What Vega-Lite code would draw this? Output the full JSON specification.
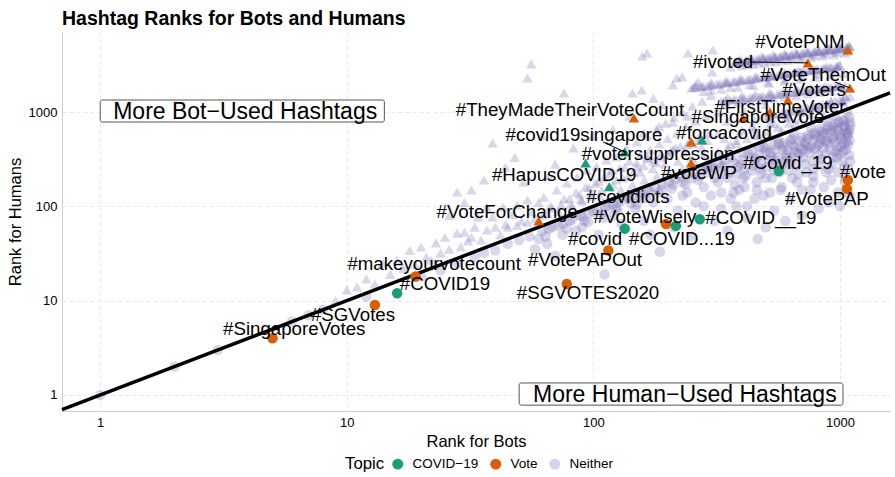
{
"$schema":"https://vega.github.io/schema/vega-lite/v6.json",
"width":828,"height":379,
"autosize":{"type":"none"},
"padding":{"left":62,"top":32,"right":5,"bottom":66},
"background":"white",
"title":{"text":"Hashtag Ranks for Bots and Humans","anchor":"start","frame":"group","font":"Liberation Sans","fontSize":19.5,"fontWeight":"bold","color":"black","baseline":"alphabetic","offset":10,"dy":22},
"config":{"view":{"stroke":null},"font":"Liberation Sans",
"axis":{"labelFont":"Liberation Sans","titleFont":"Liberation Sans","labelColor":"black","titleColor":"black","labelFontSize":13,"titleFontSize":16.5,"titleFontWeight":"normal","ticks":false,"domainColor":"#cfcfcf","domainWidth":1,"gridColor":"#e8e8e8","gridDash":[4,3],"gridWidth":1,"labelPadding":5}},
"datasets":{
"bg":[
{"b":9,"h":10},{"b":10,"h":13},{"b":11,"h":14},{"b":12,"h":17},{"b":13,"h":15},{"b":14,"h":25},{"b":15,"h":19},{"b":16,"h":27},{"b":17,"h":22},{"b":18,"h":34},{"b":19,"h":24},{"b":20,"h":37},{"b":21,"h":29},{"b":22,"h":27},{"b":23,"h":41},{"b":24,"h":32},{"b":25,"h":47},{"b":26,"h":35},{"b":28,"h":52},{"b":29,"h":37},{"b":30,"h":53},
{"b":31,"h":43},{"b":32,"h":47},{"b":33,"h":60},{"b":34,"h":77},{"b":35,"h":44},{"b":37,"h":56},{"b":37,"h":98},{"b":39,"h":77},{"b":40,"h":60},{"b":42,"h":50},{"b":43,"h":98},{"b":44,"h":64},{"b":45,"h":60},{"b":47,"h":82},{"b":49,"h":63},{"b":49,"h":103},{"b":51,"h":70},{"b":54,"h":68},{"b":54,"h":117},{"b":56,"h":88},{"b":58,"h":74},{"b":60,"h":110},{"b":63,"h":125},{"b":65,"h":84},{"b":68,"h":95},{"b":71,"h":149},{"b":74,"h":104},{"b":78,"h":177},{"b":80,"h":121},{"b":82,"h":98},{"b":86,"h":204},{"b":88,"h":133},{"b":90,"h":113},{"b":94,"h":242},{"b":96,"h":158},{"b":98,"h":128},
{"b":28,"h":142},{"b":32,"h":149},{"b":36,"h":190},{"b":30,"h":110},{"b":26,"h":80},{"b":39,"h":470},{"b":44,"h":260},{"b":48,"h":330},{"b":54,"h":2300},{"b":56,"h":3230},{"b":76,"h":1590},{"b":83,"h":415},{"b":62,"h":560},{"b":70,"h":280},{"b":52,"h":180},{"b":66,"h":210},{"b":100,"h":560},
{"b":103,"h":262},{"b":105,"h":185},{"b":108,"h":148},{"b":113,"h":310},{"b":116,"h":220},{"b":120,"h":170},{"b":124,"h":333},{"b":128,"h":255},{"b":132,"h":200},{"b":136,"h":410},{"b":140,"h":300},{"b":145,"h":230},{"b":150,"h":480},{"b":155,"h":350},{"b":160,"h":270},{"b":165,"h":560},{"b":170,"h":400},{"b":175,"h":300},{"b":180,"h":650},{"b":185,"h":460},{"b":190,"h":330},{"b":196,"h":760},{"b":200,"h":520},{"b":206,"h":380},{"b":212,"h":880},{"b":218,"h":600},{"b":225,"h":430},{"b":230,"h":1000},{"b":238,"h":700},{"b":245,"h":480},{"b":252,"h":1150},{"b":260,"h":800},{"b":268,"h":540},{"b":276,"h":1300},{"b":285,"h":900},{"b":294,"h":600},{"b":300,"h":1500},{"b":144,"h":1590},{"b":158,"h":3920},{"b":165,"h":4225},{"b":242,"h":4225},{"b":157,"h":1710},{"b":218,"h":2290},{"b":266,"h":2080},{"b":303,"h":2650},{"b":210,"h":1940},{"b":229,"h":2360},{"b":305,"h":4540},{"b":190,"h":1200},{"b":140,"h":900},{"b":120,"h":650},{"b":175,"h":1400},
{"b":150,"h":260},{"b":165,"h":330},{"b":180,"h":290},{"b":200,"h":350},{"b":215,"h":420},{"b":235,"h":380},{"b":255,"h":460},{"b":275,"h":420},{"b":290,"h":500},{"b":160,"h":600},{"b":185,"h":700},{"b":210,"h":780},{"b":240,"h":900},
{"b":62,"h":80},{"b":67,"h":100},{"b":72,"h":88},{"b":76,"h":120},{"b":81,"h":105},{"b":85,"h":140},{"b":89,"h":118},{"b":93,"h":160},{"b":97,"h":140},{"b":102,"h":175},{"b":106,"h":130},{"b":110,"h":200},{"b":115,"h":160},{"b":119,"h":240},{"b":124,"h":190},{"b":129,"h":150},{"b":134,"h":260},{"b":139,"h":210},{"b":144,"h":170},{"b":150,"h":290},{"b":155,"h":230},{"b":161,"h":190},{"b":167,"h":320},{"b":174,"h":250},{"b":181,"h":210},{"b":188,"h":360},{"b":195,"h":280},{"b":202,"h":230},{"b":210,"h":400},{"b":220,"h":300},{"b":230,"h":250},{"b":240,"h":450},{"b":250,"h":330},{"b":260,"h":280},{"b":270,"h":500},{"b":280,"h":360},{"b":290,"h":310},
{"b":380,"h":3400},{"b":400,"h":3460},{"b":420,"h":3520},{"b":445,"h":3590},{"b":470,"h":3660},{"b":495,"h":3720},{"b":520,"h":3790},{"b":550,"h":3860},{"b":580,"h":3930},{"b":610,"h":4000},{"b":640,"h":4070},{"b":675,"h":4140},{"b":710,"h":4220},{"b":750,"h":4300},{"b":790,"h":4380},{"b":830,"h":4450},{"b":875,"h":4530},{"b":920,"h":4610},{"b":970,"h":4700},{"b":1020,"h":4780},{"b":1070,"h":4860},{"b":1100,"h":4910},
{"b":372,"h":3380},{"b":395,"h":3440},{"b":415,"h":3500},{"b":438,"h":3570},{"b":462,"h":3640},{"b":488,"h":3700},{"b":512,"h":3770},{"b":545,"h":3850},{"b":572,"h":3910},{"b":602,"h":3980},{"b":632,"h":4050},{"b":668,"h":4120},{"b":702,"h":4200},{"b":742,"h":4280},{"b":782,"h":4360},{"b":822,"h":4430},{"b":865,"h":4510},{"b":910,"h":4590},{"b":960,"h":4680},{"b":1010,"h":4760},{"b":1060,"h":4840},
{"b":420,"h":3200},{"b":470,"h":3330},{"b":520,"h":3450},{"b":580,"h":3570},{"b":640,"h":3700},{"b":710,"h":3830},{"b":790,"h":3980},{"b":875,"h":4120},{"b":970,"h":4270},{"b":1070,"h":4420},
{"b":390,"h":3650},{"b":432,"h":3760},{"b":482,"h":3900},{"b":535,"h":4030},{"b":595,"h":4170},{"b":660,"h":4310},{"b":730,"h":4460},{"b":810,"h":4620},{"b":900,"h":4790},{"b":995,"h":4960},{"b":1085,"h":5100},
{"b":360,"h":3000},{"b":400,"h":3100},{"b":445,"h":3200},{"b":495,"h":3300},{"b":550,"h":3420},{"b":615,"h":3540},{"b":685,"h":3660},{"b":765,"h":3790},{"b":850,"h":3920},{"b":945,"h":4060},{"b":1050,"h":4200},
{"b":410,"h":3400},{"b":457,"h":3520},{"b":507,"h":3640},{"b":565,"h":3770},{"b":625,"h":3880},{"b":692,"h":4020},{"b":770,"h":4160},{"b":852,"h":4290},{"b":945,"h":4430},{"b":1045,"h":4580},
{"b":385,"h":3420},{"b":435,"h":3560},{"b":485,"h":3690},{"b":540,"h":3830},{"b":600,"h":3960},{"b":665,"h":4100},{"b":735,"h":4250},{"b":815,"h":4400},{"b":900,"h":4560},{"b":995,"h":4730},{"b":1090,"h":4890},
{"b":250,"h":1800},{"b":270,"h":1855},{"b":290,"h":1905},{"b":315,"h":1970},{"b":340,"h":2030},{"b":365,"h":2090},{"b":390,"h":2140},{"b":420,"h":2200},{"b":450,"h":2260},{"b":485,"h":2330},{"b":520,"h":2390},{"b":560,"h":2460},{"b":600,"h":2530},{"b":645,"h":2600},{"b":690,"h":2670},{"b":740,"h":2740},{"b":790,"h":2800},{"b":845,"h":2880},{"b":900,"h":2950},{"b":960,"h":3020},{"b":1000,"h":3100},
{"b":255,"h":1815},{"b":275,"h":1870},{"b":297,"h":1920},{"b":322,"h":1985},{"b":347,"h":2045},{"b":372,"h":2100},{"b":398,"h":2155},{"b":428,"h":2215},{"b":458,"h":2280},{"b":493,"h":2345},{"b":530,"h":2410},{"b":570,"h":2480},{"b":612,"h":2550},{"b":656,"h":2620},{"b":702,"h":2690},{"b":752,"h":2755},{"b":803,"h":2820},{"b":858,"h":2900},{"b":915,"h":2970},{"b":970,"h":3040},
{"b":260,"h":1830},{"b":280,"h":1880},{"b":303,"h":1940},{"b":328,"h":2000},{"b":352,"h":2060},{"b":378,"h":2115},{"b":405,"h":2170},{"b":435,"h":2230},{"b":467,"h":2295},{"b":502,"h":2360},{"b":540,"h":2425},{"b":580,"h":2495},{"b":622,"h":2565},{"b":667,"h":2635},{"b":715,"h":2705},{"b":765,"h":2770},{"b":817,"h":2840},{"b":872,"h":2915},{"b":930,"h":2985},{"b":980,"h":3060},
{"b":300,"h":1700},{"b":360,"h":1820},{"b":430,"h":1950},{"b":510,"h":2080},{"b":600,"h":2220},{"b":700,"h":2360},{"b":820,"h":2510},{"b":950,"h":2660},
{"b":260,"h":1950},{"b":300,"h":2050},{"b":345,"h":2150},{"b":395,"h":2260},{"b":455,"h":2380},{"b":520,"h":2500},{"b":595,"h":2620},{"b":680,"h":2750},{"b":775,"h":2880},{"b":880,"h":3020},{"b":990,"h":3160},
{"b":280,"h":1650},{"b":330,"h":1740},{"b":385,"h":1830},{"b":445,"h":1920},{"b":515,"h":2020},{"b":595,"h":2120},{"b":690,"h":2230},{"b":795,"h":2340},{"b":915,"h":2460},{"b":1040,"h":2580},
{"b":330,"h":1300},{"b":360,"h":1340},{"b":395,"h":1380},{"b":430,"h":1420},{"b":470,"h":1460},{"b":510,"h":1500},{"b":555,"h":1540},{"b":600,"h":1580},{"b":650,"h":1620},{"b":705,"h":1670},{"b":760,"h":1710},{"b":820,"h":1750},{"b":885,"h":1800},{"b":950,"h":1850},{"b":1050,"h":1900},
{"b":338,"h":1310},{"b":370,"h":1350},{"b":403,"h":1390},{"b":440,"h":1430},{"b":480,"h":1470},{"b":520,"h":1510},{"b":566,"h":1550},{"b":612,"h":1590},{"b":664,"h":1635},{"b":718,"h":1680},{"b":775,"h":1720},{"b":836,"h":1765},{"b":900,"h":1810},{"b":975,"h":1860},
{"b":345,"h":1320},{"b":378,"h":1360},{"b":412,"h":1400},{"b":450,"h":1440},{"b":490,"h":1480},{"b":532,"h":1520},{"b":578,"h":1560},{"b":625,"h":1600},{"b":678,"h":1645},{"b":732,"h":1690},{"b":790,"h":1730},{"b":852,"h":1775},{"b":918,"h":1825},{"b":1000,"h":1875},
{"b":345,"h":1200},{"b":385,"h":1240},{"b":430,"h":1290},{"b":480,"h":1340},{"b":535,"h":1390},{"b":595,"h":1440},{"b":665,"h":1490},{"b":740,"h":1550},{"b":825,"h":1610},{"b":920,"h":1670},{"b":1020,"h":1730},{"b":1090,"h":1780},
{"b":350,"h":1420},{"b":400,"h":1480},{"b":455,"h":1540},{"b":520,"h":1600},{"b":590,"h":1670},{"b":670,"h":1740},{"b":760,"h":1810},{"b":865,"h":1880},{"b":985,"h":1960},
{"b":500,"h":900},{"b":540,"h":940},{"b":585,"h":980},{"b":630,"h":1020},{"b":680,"h":1070},{"b":735,"h":1120},{"b":790,"h":1170},{"b":850,"h":1220},{"b":920,"h":1280},{"b":990,"h":1340},{"b":1060,"h":1400},{"b":1100,"h":1450},
{"b":520,"h":920},{"b":562,"h":960},{"b":607,"h":1000},{"b":655,"h":1045},{"b":707,"h":1095},{"b":762,"h":1145},{"b":820,"h":1195},{"b":885,"h":1250},{"b":955,"h":1310},{"b":1025,"h":1370},
{"b":450,"h":820},{"b":520,"h":880},{"b":600,"h":950},{"b":690,"h":1030},{"b":790,"h":1110},{"b":900,"h":1200},{"b":1020,"h":1300},
{"b":320,"h":380},{"b":350,"h":420},{"b":380,"h":460},{"b":420,"h":520},{"b":460,"h":570},{"b":510,"h":620},{"b":560,"h":690},{"b":620,"h":760},{"b":690,"h":840},{"b":760,"h":930},{"b":840,"h":1030},{"b":930,"h":1140},{"b":1030,"h":1260},{"b":340,"h":520},{"b":390,"h":590},{"b":450,"h":660},{"b":520,"h":760},{"b":600,"h":870},{"b":690,"h":1000},{"b":800,"h":1140},{"b":920,"h":1310},{"b":1050,"h":1480},
{"b":320,"h":600},{"b":350,"h":800},{"b":380,"h":500},{"b":410,"h":1000},{"b":440,"h":700},{"b":470,"h":560},{"b":500,"h":1200},{"b":540,"h":750},{"b":580,"h":640},{"b":620,"h":900},{"b":660,"h":760},{"b":700,"h":1000},{"b":320,"h":1000},{"b":360,"h":450},{"b":400,"h":640},
{"b":1,"h":1},{"b":2,"h":2},{"b":3,"h":3},{"b":6,"h":6},{"b":7,"h":7},{"b":8,"h":8},{"b":12,"h":11},{"b":20,"h":18},{"b":24,"h":21},{"b":28,"h":25},{"b":33,"h":29},{"b":36,"h":32},{"b":40,"h":34},{"b":45,"h":40},{"b":50,"h":44},{"b":55,"h":48},{"b":60,"h":45},{"b":66,"h":58},{"b":70,"h":30},{"b":72,"h":62},{"b":80,"h":70},{"b":85,"h":55},{"b":90,"h":78},{"b":95,"h":68},{"b":100,"h":88},{"b":105,"h":50},{"b":111,"h":19},{"b":115,"h":100},{"b":120,"h":80},{"b":126,"h":110},{"b":130,"h":65},{"b":140,"h":120},{"b":148,"h":95},{"b":155,"h":130},{"b":160,"h":70},{"b":170,"h":140},{"b":175,"h":110},{"b":186,"h":33},{"b":190,"h":150},{"b":200,"h":120},{"b":210,"h":170},{"b":220,"h":90},{"b":230,"h":180},{"b":240,"h":140},{"b":250,"h":200},{"b":260,"h":110},{"b":270,"h":210},{"b":280,"h":160},{"b":290,"h":230},{"b":300,"h":130},{"b":310,"h":250},{"b":320,"h":180},{"b":330,"h":95},{"b":340,"h":270},{"b":350,"h":200},{"b":360,"h":120},{"b":370,"h":290},{"b":380,"h":220},{"b":390,"h":150},{"b":400,"h":310},{"b":410,"h":250},{"b":420,"h":100},{"b":430,"h":330},{"b":445,"h":270},{"b":464,"h":45},{"b":460,"h":180},{"b":470,"h":350},{"b":480,"h":290},{"b":490,"h":130},{"b":500,"h":380},{"b":515,"h":310},{"b":530,"h":200},{"b":545,"h":400},{"b":560,"h":330},{"b":575,"h":150},{"b":590,"h":430},{"b":605,"h":350},{"b":620,"h":240},{"b":640,"h":460},{"b":655,"h":380},{"b":670,"h":180},{"b":690,"h":490},{"b":705,"h":400},{"b":720,"h":280},{"b":740,"h":520},{"b":760,"h":430},{"b":780,"h":210},{"b":800,"h":560},{"b":820,"h":460},{"b":840,"h":320},{"b":860,"h":600},{"b":880,"h":500},{"b":900,"h":250},{"b":920,"h":640},{"b":940,"h":540},{"b":960,"h":380},{"b":980,"h":680},{"b":1000,"h":580},{"b":1020,"h":300},{"b":1040,"h":720},{"b":1060,"h":620},{"b":1080,"h":450},{"b":1100,"h":780},{"b":1090,"h":350},{"b":1050,"h":200},{"b":980,"h":140},{"b":900,"h":110},{"b":820,"h":95},{"b":700,"h":80},{"b":600,"h":70},{"b":500,"h":60},{"b":350,"h":55},{"b":250,"h":48},{"b":950,"h":900},{"b":1070,"h":1000},{"b":880,"h":800},{"b":760,"h":690},{"b":650,"h":590},{"b":560,"h":510},{"b":470,"h":430},{"b":400,"h":370},{"b":340,"h":310},{"b":290,"h":265},{"b":1100,"h":130},{"b":1000,"h":100},{"b":760,"h":150},{"b":630,"h":120},{"b":540,"h":90},{"b":420,"h":75},{"b":310,"h":70},{"b":1080,"h":250},{"b":1050,"h":180},{"b":1100,"h":300},
{"b":310,"h":200},{"b":330,"h":260},{"b":355,"h":230},{"b":375,"h":170},{"b":395,"h":280},{"b":415,"h":210},{"b":440,"h":240},{"b":455,"h":320},{"b":480,"h":220},{"b":505,"h":260},{"b":525,"h":340},{"b":550,"h":280},{"b":570,"h":230},{"b":595,"h":300},{"b":615,"h":390},{"b":640,"h":330},{"b":660,"h":270},{"b":685,"h":360},{"b":710,"h":330},{"b":730,"h":440},{"b":750,"h":370},{"b":775,"h":300},{"b":795,"h":410},{"b":815,"h":350},{"b":835,"h":520},{"b":855,"h":420},{"b":875,"h":360},{"b":895,"h":460},{"b":915,"h":400},{"b":935,"h":330},{"b":955,"h":480},{"b":975,"h":420},{"b":995,"h":360},{"b":1015,"h":520},{"b":1035,"h":460},{"b":1055,"h":400},{"b":1075,"h":560},{"b":1095,"h":500},{"b":1090,"h":650},{"b":1040,"h":800},{"b":990,"h":780},{"b":940,"h":700},{"b":890,"h":660},{"b":840,"h":620},{"b":790,"h":600},{"b":740,"h":560},{"b":690,"h":420},{"b":640,"h":520},{"b":590,"h":470},{"b":540,"h":450},{"b":490,"h":420},{"b":440,"h":390},{"b":860,"h":160},{"b":920,"h":190},{"b":980,"h":230},{"b":1040,"h":260},{"b":700,"h":150},{"b":780,"h":180},{"b":640,"h":200},{"b":580,"h":160},{"b":520,"h":140},{"b":450,"h":120},{"b":380,"h":100},{"b":330,"h":140},{"b":280,"h":100},{"b":230,"h":130},{"b":210,"h":60},{"b":170,"h":50},{"b":150,"h":105},{"b":125,"h":90},{"b":110,"h":75},{"b":90,"h":60},{"b":75,"h":50},{"b":65,"h":40},{"b":58,"h":35},
{"b":300,"h":260},{"b":320,"h":290},{"b":340,"h":220},{"b":365,"h":330},{"b":385,"h":260},{"b":405,"h":200},{"b":425,"h":360},{"b":450,"h":300},{"b":475,"h":250},{"b":500,"h":420},{"b":520,"h":370},{"b":545,"h":310},{"b":565,"h":460},{"b":585,"h":400},{"b":610,"h":330},{"b":630,"h":500},{"b":650,"h":430},{"b":675,"h":370},{"b":700,"h":540},{"b":720,"h":470},{"b":745,"h":410},{"b":770,"h":580},{"b":790,"h":510},{"b":810,"h":440},{"b":830,"h":660},{"b":850,"h":560},{"b":870,"h":480},{"b":895,"h":710},{"b":915,"h":600},{"b":935,"h":520},{"b":960,"h":760},{"b":980,"h":640},{"b":1000,"h":550},{"b":1025,"h":820},{"b":1045,"h":700},{"b":1065,"h":590},{"b":1090,"h":880},{"b":1100,"h":720},{"b":1085,"h":600},{"b":1060,"h":480},{"b":1030,"h":380},{"b":1010,"h":430},{"b":970,"h":330},{"b":930,"h":280},{"b":880,"h":230},{"b":830,"h":270},{"b":780,"h":250},{"b":730,"h":230},{"b":680,"h":220},{"b":630,"h":300},{"b":580,"h":270},{"b":540,"h":240},{"b":500,"h":200},{"b":460,"h":150},{"b":410,"h":160},{"b":370,"h":140},
{"b":62,"h":55},{"b":68,"h":60},{"b":75,"h":65},{"b":82,"h":72},{"b":88,"h":80},{"b":96,"h":85},{"b":104,"h":92},{"b":112,"h":98},{"b":120,"h":105},{"b":130,"h":115},{"b":138,"h":125},{"b":146,"h":132},{"b":156,"h":140},{"b":166,"h":150},{"b":178,"h":160},{"b":190,"h":170},{"b":202,"h":182},{"b":215,"h":195},{"b":228,"h":205},{"b":242,"h":218},{"b":256,"h":230},{"b":272,"h":245},{"b":288,"h":258},{"b":64,"h":48},{"b":78,"h":58},{"b":92,"h":70},{"b":108,"h":84},{"b":124,"h":96},{"b":142,"h":108},{"b":162,"h":122},{"b":184,"h":138},{"b":208,"h":154},{"b":236,"h":172},{"b":266,"h":190}
],
"hl":[
{"b":16,"h":12,"t":"COVID−19","l":"#COVID19","lx":25.0,"ly":15.0},
{"b":134,"h":58,"t":"COVID−19","l":"#covid","lx":101.6,"ly":45.1},
{"b":216,"h":62,"t":"COVID−19","l":"#COVID...19","lx":228.7,"ly":45.1},
{"b":270,"h":73,"t":"COVID−19","l":"#COVID__19","lx":478,"ly":75.2},
{"b":565,"h":237,"t":"COVID−19","l":"#Covid_19","lx":615,"ly":288},
{"b":116,"h":161,"t":"COVID−19","l":"#covidiots","lx":138.2,"ly":125.6},
{"b":93,"h":288,"t":"COVID−19","l":"#HapusCOVID19","lx":76.1,"ly":215},
{"b":134,"h":377,"t":"COVID−19","l":"#covid19singapore","lx":91.6,"ly":570,"sx":109.4,"sy":481},
{"b":276,"h":505,"t":"COVID−19","l":"#forcacovid","lx":338.6,"ly":599},
{"b":5,"h":4,"t":"Vote","l":"#SingaporeVotes","lx":6.12,"ly":5.01},
{"b":13,"h":9,"t":"Vote","l":"#SGVotes","lx":10.6,"ly":7.05},
{"b":19,"h":18,"t":"Vote","l":"#makeyourvotecount","lx":22.6,"ly":24.5},
{"b":60,"h":70,"t":"Vote","l":"#VoteForChange","lx":44.7,"ly":87.1},
{"b":78,"h":15,"t":"Vote","l":"#SGVOTES2020","lx":95.1,"ly":12.06},
{"b":115,"h":34,"t":"Vote","l":"#VotePAPOut","lx":92.5,"ly":27.0},
{"b":197,"h":65,"t":"Vote","l":"#VoteWisely","lx":161.9,"ly":77.1},
{"b":1076,"h":190,"t":"Vote","l":"#vote","lx":1239,"ly":231},
{"b":1067,"h":153,"t":"Vote","l":"#VotePAP","lx":885,"ly":119.7},
{"b":249,"h":288,"t":"Vote","l":"#voteWP","lx":268,"ly":226},
{"b":249,"h":482,"t":"Vote","l":"#votersuppression","lx":182.9,"ly":359},
{"b":146,"h":865,"t":"Vote","l":"#TheyMadeTheirVoteCount","lx":80.4,"ly":1050},
{"b":404,"h":866,"t":"Vote","l":"#SingaporeVote","lx":465,"ly":885},
{"b":520,"h":1000,"t":"Vote","l":"#FirstTimeVoter","lx":571,"ly":1130},
{"b":615,"h":1340,"t":"Vote","l":"#Voters","lx":785,"ly":1711},
{"b":1097,"h":1800,"t":"Vote","l":"#VoteThemOut","lx":853,"ly":2467,"sx":954,"sy":2080},
{"b":741,"h":3320,"t":"Vote","l":"#ivoted","lx":335.5,"ly":3388,"sx":432,"sy":3388},
{"b":1076,"h":4560,"t":"Vote","l":"#VotePNM","lx":688,"ly":5525}
],
"diag":[{"b":0.7,"h":0.7},{"b":1595,"h":1595}],
"boxes":[
{"x1":1,"x2":14.2,"y1":783,"y2":1340,"tx":1.129,"ty":1000,"txt":"More Bot−Used Hashtags"},
{"x1":50,"x2":1028,"y1":0.78,"y2":1.34,"tx":56.9,"ty":1,"txt":"More Human−Used Hashtags"}
]
},
"layer":[
{"data":{"name":"bg"},
"mark":{"type":"point","filled":true,"color":"#7570b3","opacity":0.28,"size":110,"strokeWidth":0},
"encoding":{
"x":{"field":"b","type":"quantitative","scale":{"type":"log","domain":[0.7,1595],"nice":false},"axis":{"values":[1,10,100,1000],"format":"d","title":"Rank for Bots","titlePadding":4}},
"y":{"field":"h","type":"quantitative","scale":{"type":"log","domain":[0.676,7050],"nice":false},"axis":{"values":[1,10,100,1000],"format":"d","title":"Rank for Humans","titlePadding":5}},
"shape":{"condition":{"test":"datum.h > datum.b","value":"triangle-up"},"value":"circle"}
}},
{"data":{"name":"diag"},"mark":{"type":"line","color":"black","strokeWidth":3.5},
"encoding":{"x":{"field":"b","type":"quantitative"},"y":{"field":"h","type":"quantitative"}}},
{"data":{"name":"hl"},
"mark":{"type":"point","filled":true,"opacity":1,"size":110,"strokeWidth":0},
"encoding":{
"x":{"field":"b","type":"quantitative"},
"y":{"field":"h","type":"quantitative"},
"shape":{"condition":{"test":"datum.h > datum.b","value":"triangle-up"},"value":"circle"},
"color":{"field":"t","type":"nominal","scale":{"domain":["COVID−19","Vote","Neither"],"range":["#1b9e77","#d95f02","#d6d4ea"]},
"legend":{"orient":"none","legendX":283,"legendY":425,"direction":"horizontal","title":"Topic","titleOrient":"left","titleFont":"Liberation Sans","titleFontSize":16.8,"titleFontWeight":"normal","titleColor":"black","titlePadding":6,"labelFont":"Liberation Sans","labelFontSize":13.5,"labelColor":"black","symbolType":"circle","symbolSize":120,"symbolStrokeWidth":0,"symbolOpacity":1,"labelOffset":8,"columnPadding":10,"padding":0}}
}},
{"data":{"name":"hl"},"transform":[{"filter":"isValid(datum.sx)"}],
"mark":{"type":"rule","color":"black","strokeWidth":1},
"encoding":{"x":{"field":"b","type":"quantitative"},"y":{"field":"h","type":"quantitative"},"x2":{"field":"sx"},"y2":{"field":"sy"}}},
{"data":{"name":"hl"},
"mark":{"type":"text","font":"Liberation Sans","fontSize":18.7,"color":"black","align":"center","baseline":"middle"},
"encoding":{"x":{"field":"lx","type":"quantitative"},"y":{"field":"ly","type":"quantitative"},"text":{"field":"l"}}},
{"data":{"name":"boxes"},
"mark":{"type":"rect","fill":"white","stroke":"#555555","strokeWidth":1,"cornerRadius":2},
"encoding":{"x":{"field":"x1","type":"quantitative"},"x2":{"field":"x2"},"y":{"field":"y1","type":"quantitative"},"y2":{"field":"y2"}}},
{"data":{"name":"boxes"},
"mark":{"type":"text","font":"Liberation Sans","fontSize":23,"color":"black","align":"left","baseline":"middle"},
"encoding":{"x":{"field":"tx","type":"quantitative"},"y":{"field":"ty","type":"quantitative"},"text":{"field":"txt"}}}
]
}
